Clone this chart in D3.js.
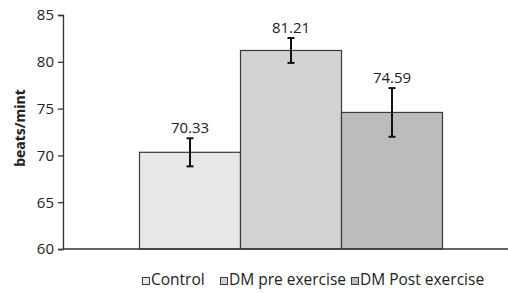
<!DOCTYPE html>
<html><head><meta charset="utf-8">
<script src="https://cdn.jsdelivr.net/npm/d3@7"></script>
<style>body{margin:0;background:#fff}svg{display:block}text{font-family:"Open Sans",sans-serif}</style>
</head><body><svg id="c" width="508" height="293"></svg>
<script>
const categories = ["Control", "DM pre exercise", "DM Post exercise"];
const values = [70.33, 81.21, 74.59];
const errors = [1.5, 1.33, 2.6];
const colors = ["#e6e7e8", "#d1d2d4", "#bbbcbe"];
const yTicks = [60, 65, 70, 75, 80, 85];

const svg = d3.select("#c");
const y = d3.scaleLinear().domain([60, 85]).range([249, 15]);
const x = d3.scaleBand().domain(categories).range([139.5, 442.5]).padding(0);

// y axis
const yAxis = svg.append("g").attr("transform", "translate(63,0)")
  .call(d3.axisLeft(y).tickValues(yTicks).tickSize(5).tickPadding(4).tickFormat(d3.format("d")));
yAxis.select(".domain").attr("stroke", "#333").attr("stroke-width", 1.3);
yAxis.selectAll(".tick line").attr("stroke", "#333").attr("stroke-width", 1.3);
yAxis.selectAll(".tick text").attr("font-size", 15).attr("fill", "#222").attr("font-family", "Open Sans");

// bars
svg.selectAll("rect.bar").data(categories).enter().append("rect")
  .attr("class", "bar")
  .attr("x", d => x(d)).attr("width", x.bandwidth())
  .attr("y", (d, i) => y(values[i])).attr("height", (d, i) => y(60) - y(values[i]))
  .attr("fill", (d, i) => colors[i]).attr("stroke", "#3a3a3a").attr("stroke-width", 1.2);

// x axis line
svg.append("line").attr("x1", 63).attr("x2", 508).attr("y1", y(60)).attr("y2", y(60))
  .attr("stroke", "#333").attr("stroke-width", 1.5);

// error bars
const eb = svg.selectAll("g.eb").data(categories).enter().append("g").attr("class", "eb");
eb.append("line").attr("x1", d => x(d) + x.bandwidth() / 2).attr("x2", d => x(d) + x.bandwidth() / 2)
  .attr("y1", (d, i) => y(values[i] + errors[i])).attr("y2", (d, i) => y(values[i] - errors[i]))
  .attr("stroke", "#111").attr("stroke-width", 2);
[1, -1].forEach(s => {
  eb.append("line").attr("x1", d => x(d) + x.bandwidth() / 2 - 3.5).attr("x2", d => x(d) + x.bandwidth() / 2 + 3.5)
    .attr("y1", (d, i) => y(values[i] + s * errors[i])).attr("y2", (d, i) => y(values[i] + s * errors[i]))
    .attr("stroke", "#111").attr("stroke-width", 2);
});

// value labels
svg.selectAll("text.val").data(categories).enter().append("text").attr("class", "val")
  .attr("x", d => x(d) + x.bandwidth() / 2)
  .attr("y", (d, i) => y(values[i] + errors[i]) - 5)
  .attr("text-anchor", "middle").attr("font-size", 15).attr("fill", "#222")
  .text((d, i) => values[i].toFixed(2));

// y title
svg.append("text").attr("transform", "translate(25,128) rotate(-90)")
  .attr("text-anchor", "middle").attr("font-size", 14).attr("font-weight", "bold").attr("fill", "#222")
  .text("beats/mint");

// legend
const legX = [142.5, 220.5, 351.5];
const leg = svg.selectAll("g.leg").data(categories).enter().append("g").attr("class", "leg")
  .attr("transform", (d, i) => `translate(${legX[i]},0)`);
leg.append("rect").attr("x", 0).attr("y", 277.5).attr("width", 7).attr("height", 7)
  .attr("fill", (d, i) => colors[i]).attr("stroke", "#3a3a3a").attr("stroke-width", 1);
leg.append("text").attr("x", 8.5).attr("y", 285).attr("font-size", 15.5).attr("fill", "#222").text(d => d);
</script></body></html>
